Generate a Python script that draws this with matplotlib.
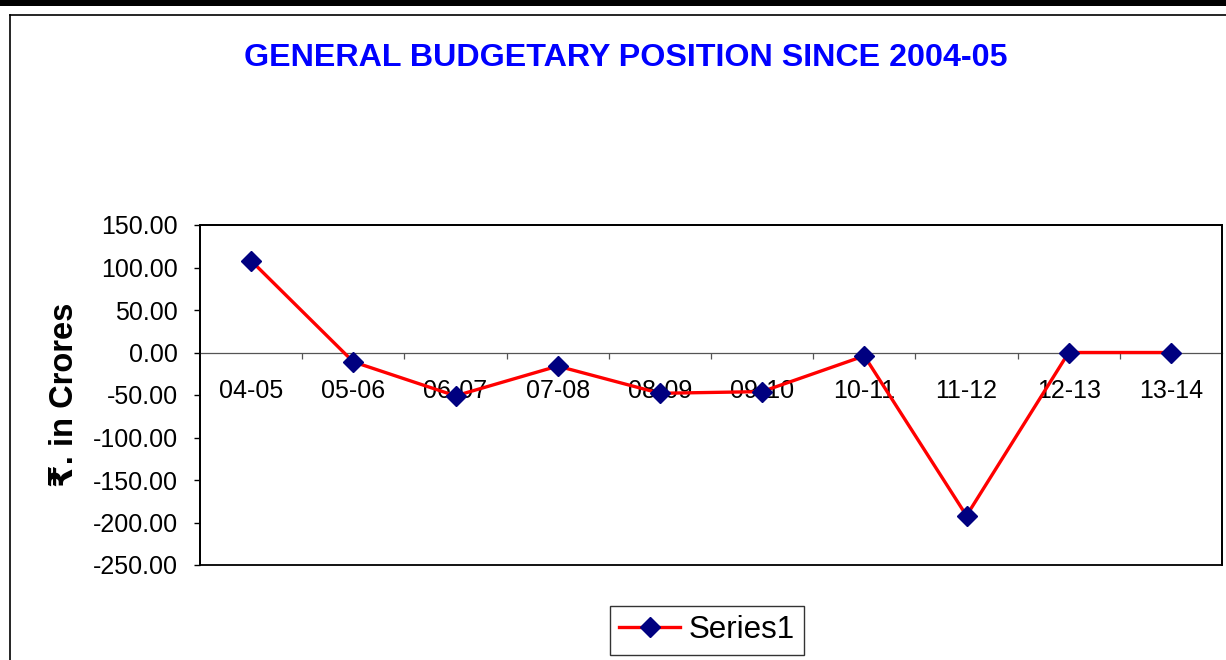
import matplotlib
matplotlib.use("Agg")
import matplotlib.pyplot as plt
from matplotlib.patches import Rectangle
from matplotlib.lines import Line2D

categories = ["04-05", "05-06", "06-07", "07-08", "08-09", "09-10", "10-11", "11-12", "12-13", "13-14"]
values = [108.0, -11.0, -51.0, -16.0, -48.0, -46.0, -4.0, -192.0, 0.0, 0.0]
yticks = [150, 100, 50, 0, -50, -100, -150, -200, -250]
series_name = "Series1"
title = "GENERAL BUDGETARY POSITION SINCE 2004-05"
ylabel = "₹. in Crores"

plt.rcParams['font.family'] = ['Liberation Sans', 'DejaVu Sans']

W, H = 1226, 660
fig = plt.figure(figsize=(W / 100, H / 100), dpi=100)
fig.patch.set_facecolor('white')

# top black bar and outer chart frame
fig.patches.append(Rectangle((0, 1 - 6 / H), 1, 6 / H, transform=fig.transFigure,
                             facecolor='black', edgecolor='none'))
fig.add_artist(Line2D([10 / W, 1], [1 - 15 / H, 1 - 15 / H], color='black', lw=1.2,
                      transform=fig.transFigure))
fig.add_artist(Line2D([10 / W, 10 / W], [0, 1 - 15 / H], color='black', lw=1.2,
                      transform=fig.transFigure))

ax = fig.add_axes([200 / W, 1 - 565 / H, (1222 - 200) / W, (565 - 225) / H])
x = list(range(len(categories)))
ax.plot(x, values, color='#ff0000', lw=2.4, marker='D', markersize=10.5,
        markerfacecolor='#000080', markeredgecolor='#000080', label=series_name,
        zorder=3, clip_on=False)

ax.set_xlim(-0.5, len(categories) - 0.5)
ax.set_ylim(-250, 150)
ax.set_yticks(yticks)
ax.set_yticklabels([f"{v:.2f}" for v in yticks])

# bottom spine acts as zero axis
ax.spines['bottom'].set_position(('data', 0))
ax.spines['bottom'].set_color('#555555')
ax.spines['bottom'].set_linewidth(0.9)
for s in ['top', 'right', 'left']:
    ax.spines[s].set_color('black')
    ax.spines[s].set_linewidth(1.3)
ax.add_patch(Rectangle((0, 0), 1, 1, transform=ax.transAxes, fill=False,
                       edgecolor='black', lw=1.3, zorder=5, clip_on=False))

ax.set_xticks(x)
ax.set_xticklabels(categories)
ax.set_xticks([i + 0.5 for i in x[:-1]], minor=True)
ax.tick_params(axis='x', which='major', length=0, pad=19, labelsize=18)
ax.tick_params(axis='x', which='minor', length=4, width=0.9, color='#555555', direction='out')
ax.tick_params(axis='y', which='major', length=4, width=1, color='black', direction='out',
               pad=12, labelsize=18)

ax.set_ylabel(ylabel, fontsize=23.5, fontweight='bold', labelpad=9)

fig.text(626 / W, 1 - 58 / H, title, ha='center', va='center', color='#0000ff',
         fontsize=23.2, fontweight='bold')

leg = fig.legend(loc='upper left', bbox_to_anchor=(610 / W, 1 - 606 / H), fontsize=22.5,
                 frameon=True, fancybox=False, handlelength=1.95, borderpad=0.3,
                 handletextpad=0.25, borderaxespad=0)
leg.get_frame().set_edgecolor('black')
leg.get_frame().set_linewidth(1.0)

fig.savefig("out.png", dpi=100)
